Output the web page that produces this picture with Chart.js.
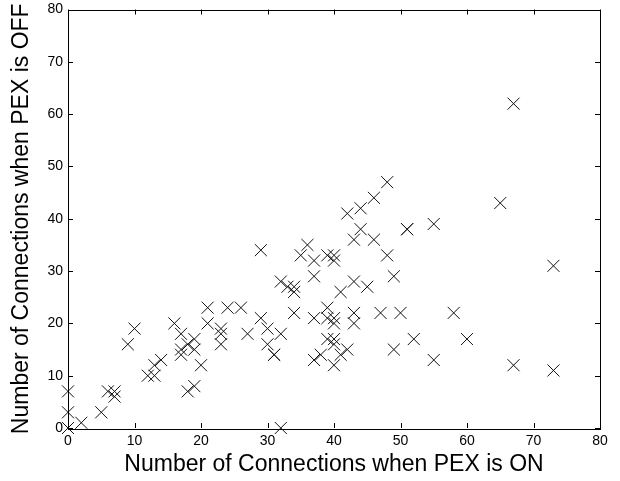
<!DOCTYPE html>
<html>
<head>
<meta charset="utf-8">
<script src="https://cdn.jsdelivr.net/npm/chart.js@4.4.0/dist/chart.umd.min.js"></script>
<style>
  html, body { margin: 0; padding: 0; background: #fff; }
  #wrap { width: 620px; height: 481px; }
</style>
</head>
<body>
<div id="wrap"><canvas id="scatter" width="620" height="481"></canvas></div>
<script>
// connections counted with PEX on (x) vs off (y)
const pexOn = [0, 0, 0, 2, 5, 6, 7, 7, 9, 10,
  12, 13, 13, 14, 16, 17, 17, 17, 18, 19,
  19, 18, 19, 20, 21, 21, 24, 26, 23, 23,
  23, 27, 29, 29, 30, 30, 31, 31, 32, 32,
  34, 32, 33, 34, 34, 35, 36, 37, 37, 37,
  37, 38, 39, 40, 40, 39, 39, 40, 40, 39,
  40, 40, 40, 41, 42, 41, 42, 43, 43, 43,
  43, 44, 44, 45, 46, 46, 47, 48, 48, 49,
  49, 50, 51, 51, 52, 55, 55, 58, 60, 65,
  67, 67, 73, 73];
const pexOff = [0, 3, 7, 1, 3, 7, 7, 6, 16, 19,
  10, 10, 12, 13, 20, 18, 15, 14, 16, 17,
  15, 7, 8, 12, 20, 23, 23, 23, 19, 18,
  16, 18, 21, 34, 19, 16, 14, 14, 18, 0,
  22, 28, 27, 27, 26, 33, 35, 32, 29, 21,
  13, 14, 33, 33, 32, 23, 21, 21, 20, 17,
  17, 16, 12, 14, 15, 26, 41, 36, 28, 22,
  20, 42, 38, 27, 44, 36, 22, 47, 33, 29,
  15, 22, 38, 38, 17, 39, 13, 22, 17, 43,
  62, 12, 31, 11];

const xTicks = [0, 10, 20, 30, 40, 50, 60, 70, 80];
const yTicks = [0, 10, 20, 30, 40, 50, 60, 70, 80];

const FONT = "'Liberation Sans', Arial, Helvetica, sans-serif";

const points = pexOn.map((x, i) => ({ x: x, y: pexOff[i] }));

// matlab style box with inward ticks on all four sides
const boxTicks = {
  id: 'boxTicks',
  afterDraw(chart) {
    const ctx = chart.ctx;
    const a = chart.chartArea;
    const xs = chart.scales.x, ys = chart.scales.y;
    const len = 5;
    ctx.save();
    ctx.strokeStyle = '#000';
    ctx.lineWidth = 1;
    ctx.strokeRect(Math.round(a.left) + 0.5, Math.round(a.top) + 0.5,
      Math.round(a.right - a.left), Math.round(a.bottom - a.top));
    ctx.beginPath();
    xTicks.forEach(v => {
      const px = Math.round(xs.getPixelForValue(v)) + 0.5;
      ctx.moveTo(px, a.bottom); ctx.lineTo(px, a.bottom - len);
      ctx.moveTo(px, a.top); ctx.lineTo(px, a.top + len);
    });
    yTicks.forEach(v => {
      const py = Math.round(ys.getPixelForValue(v)) + 0.5;
      ctx.moveTo(a.left, py); ctx.lineTo(a.left + len, py);
      ctx.moveTo(a.right, py); ctx.lineTo(a.right - len, py);
    });
    ctx.stroke();
    ctx.restore();
  }
};

new Chart(document.getElementById('scatter'), {
  type: 'scatter',
  data: {
    datasets: [{
      data: points,
      pointStyle: 'crossRot',
      pointRadius: 8.5,
      pointHoverRadius: 8.5,
      borderColor: '#111',
      backgroundColor: '#111',
      pointBorderWidth: 1,
      clip: false
    }]
  },
  options: {
    responsive: false,
    animation: false,
    layout: { padding: { top: 8, right: 20, left: 0, bottom: 0 } },
    plugins: { legend: { display: false }, tooltip: { enabled: false } },
    scales: {
      x: {
        type: 'linear',
        min: 0, max: 80,
        afterFit(scale) {
          scale.height = 53;
          scale.paddingLeft = 0; scale.paddingRight = 0;
        },
        afterBuildTicks(scale) { scale.ticks = xTicks.map(v => ({ value: v })); },
        grid: { display: false, drawTicks: false },
        border: { display: false },
        ticks: { color: '#000', padding: 5, font: { family: FONT, size: 14 }, maxRotation: 0 },
        title: {
          display: true,
          text: 'Number of Connections when PEX is ON',
          color: '#000',
          font: { family: FONT, size: 23 },
          padding: { top: 0, bottom: 3 }
        }
      },
      y: {
        type: 'linear',
        min: 0, max: 80,
        afterFit(scale) {
          scale.width = 68;
          scale.paddingTop = 0; scale.paddingBottom = 0;
        },
        afterBuildTicks(scale) { scale.ticks = yTicks.map(v => ({ value: v })); },
        grid: { display: false, drawTicks: false },
        border: { display: false },
        ticks: { color: '#000', padding: 5, font: { family: FONT, size: 14 } },
        title: {
          display: true,
          text: 'Number of Connections when PEX is OFF',
          color: '#000',
          font: { family: FONT, size: 23 },
          padding: { top: 8, bottom: 0 }
        }
      }
    }
  },
  plugins: [boxTicks]
});
</script>
</body>
</html>
